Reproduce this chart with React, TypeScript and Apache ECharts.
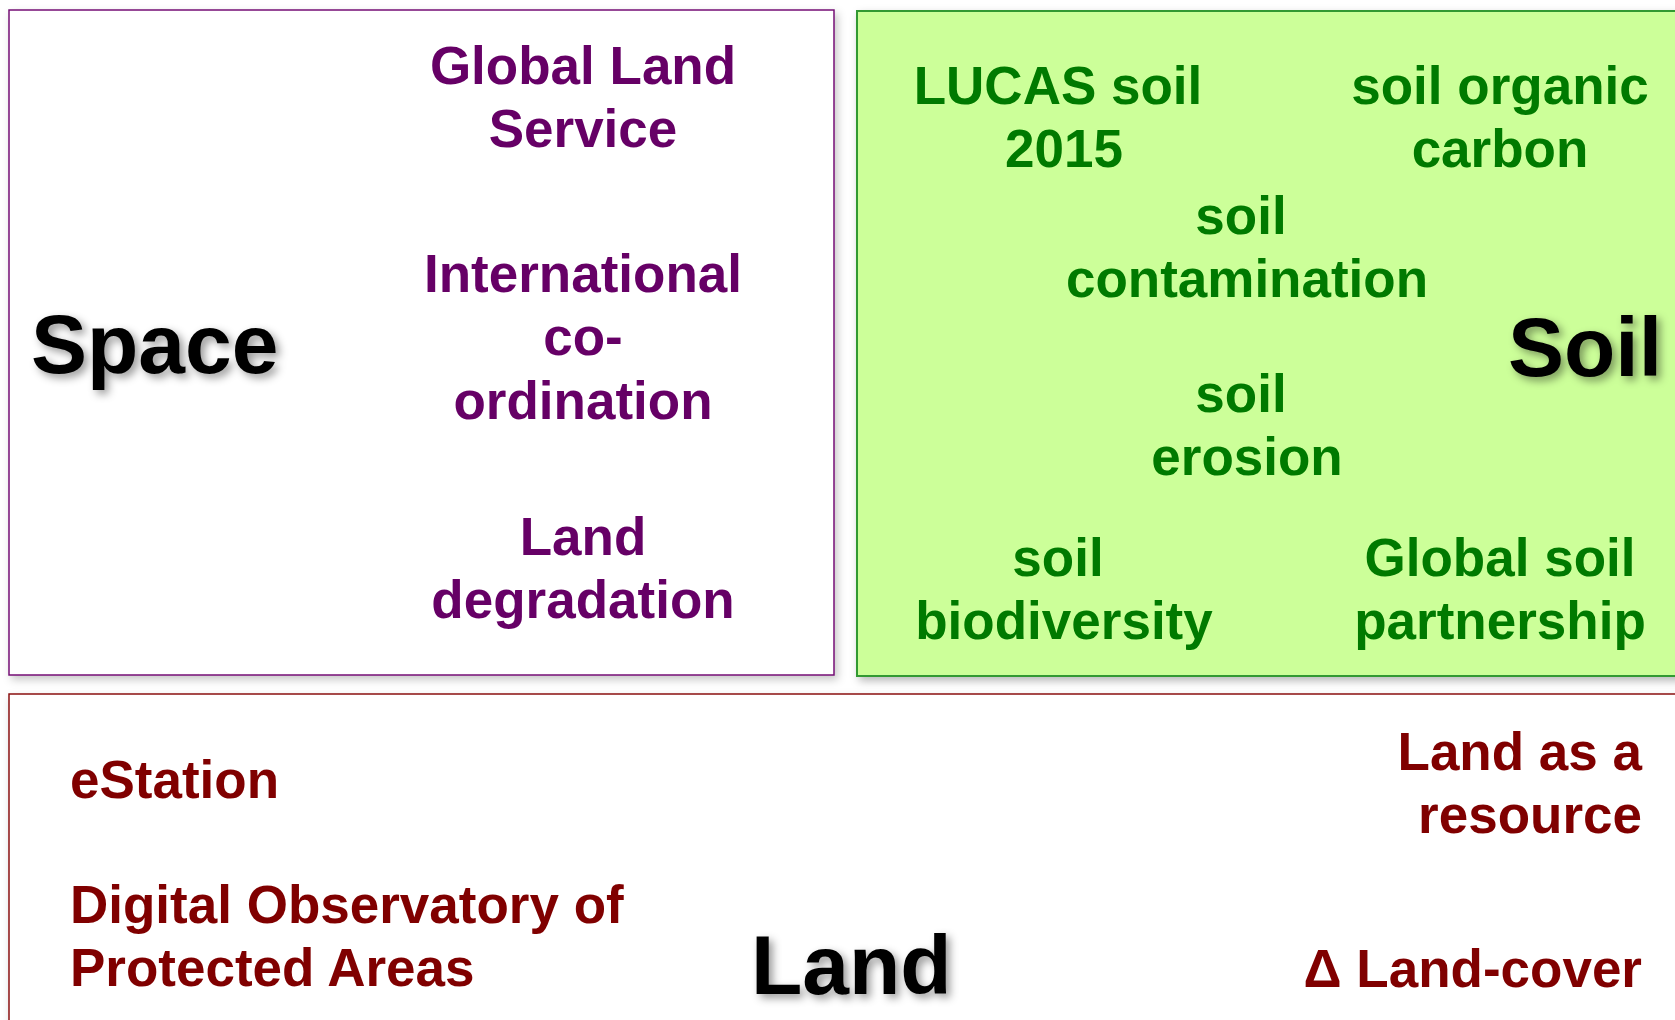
import React, { useEffect, useRef } from "react";
import * as echarts from "echarts";

// Panel titles
const panelTitles = ["Space", "Soil", "Land"];

// Items (one entry per text block, lines split by "|")
const spaceItems = ["Global Land|Service", "International|co-|ordination", "Land|degradation"];
const soilItems = [
  "LUCAS soil|2015",
  "soil organic|carbon",
  "soil|contamination",
  "soil|erosion",
  "soil|biodiversity",
  "Global soil|partnership",
];
const landItemsLeft = ["eStation", "Digital Observatory of|Protected Areas"];
const landItemsRight = ["Land as a|resource", "\u0394 Land-cover"];

const FONT = "'Liberation Sans', Arial, Helvetica, sans-serif";
const PURPLE = "#660066";
const GREEN = "#007A00";
const RED = "#800000";
const LH = 63.5;

function block(
  text: string,
  x: number,
  yFirst: number,
  color: string,
  align: "center" | "left" | "right",
  offsets: number[] = [],
  size = 53
) {
  return text.split("|").map((line, i) => ({
    type: "text",
    z: 10,
    style: {
      text: line,
      x: x + (offsets[i] || 0),
      y: yFirst + i * LH,
      fill: color,
      font: `bold ${size}px ${FONT}`,
      textAlign: align,
      textVerticalAlign: "middle",
    },
  }));
}

function title(text: string, x: number, y: number) {
  return {
    type: "text",
    z: 10,
    style: {
      text,
      x,
      y,
      fill: "#000000",
      font: `bold 84px ${FONT}`,
      textAlign: "left",
      textVerticalAlign: "middle",
      textShadowColor: "rgba(0,0,0,0.4)",
      textShadowBlur: 8,
      textShadowOffsetX: 4,
      textShadowOffsetY: 4,
    },
  };
}

export default function App() {
  const ref = useRef<HTMLDivElement>(null);
  useEffect(() => {
    if (!ref.current) return;
    const chart = echarts.init(ref.current, undefined, { renderer: "svg" });
    const spacePos = [
      [583, 65],
      [583, 273],
      [583, 536],
    ];
    const soilPos = [
      [1058, 85],
      [1500, 85],
      [1247, 215],
      [1247, 393],
      [1064, 557],
      [1500, 557],
    ];
    const soilOffsets = [[0, 6], [0, 0], [-6, 0], [-6, 0], [-6, 0], [0, 0]];
    const landLeftPos = [
      [70, 779],
      [70, 904],
    ];
    const landRightPos = [
      [1642, 751],
      [1642, 968],
    ];
    const elements: any[] = [
      {
        type: "rect",
        z: 1,
        shape: { x: 9, y: 10, width: 825, height: 665 },
        style: {
          fill: "#ffffff",
          stroke: "#750F75",
          lineWidth: 1.5,
          shadowColor: "rgba(0,0,0,0.22)",
          shadowBlur: 8,
          shadowOffsetX: 3,
          shadowOffsetY: 4,
        },
      },
      {
        type: "rect",
        z: 1,
        shape: { x: 857, y: 11, width: 840, height: 665 },
        style: {
          fill: "#CCFF99",
          stroke: "#339933",
          lineWidth: 2,
          shadowColor: "rgba(0,0,0,0.28)",
          shadowBlur: 8,
          shadowOffsetX: 3,
          shadowOffsetY: 4,
        },
      },
      {
        type: "rect",
        z: 1,
        shape: { x: 9, y: 694, width: 1700, height: 360 },
        style: {
          fill: "#ffffff",
          stroke: "#8B1010",
          lineWidth: 1.5,
          shadowColor: "rgba(0,0,0,0.18)",
          shadowBlur: 8,
          shadowOffsetX: 2,
          shadowOffsetY: 4,
        },
      },
      title(panelTitles[0], 31, 344),
      title(panelTitles[1], 1508, 347),
      title(panelTitles[2], 751, 965),
    ];
    spaceItems.forEach((t, i) =>
      elements.push(...block(t, spacePos[i][0], spacePos[i][1], PURPLE, "center"))
    );
    soilItems.forEach((t, i) =>
      elements.push(
        ...block(t, soilPos[i][0], soilPos[i][1], GREEN, "center", soilOffsets[i])
      )
    );
    landItemsLeft.forEach((t, i) =>
      elements.push(...block(t, landLeftPos[i][0], landLeftPos[i][1], RED, "left"))
    );
    landItemsRight.forEach((t, i) =>
      elements.push(...block(t, landRightPos[i][0], landRightPos[i][1], RED, "right"))
    );
    chart.setOption({
      animation: false,
      backgroundColor: "#ffffff",
      graphic: { elements },
    });
    return () => chart.dispose();
  }, []);
  return (
    <div
      ref={ref}
      style={{ position: "fixed", left: 0, top: 0, width: 1675, height: 1020 }}
    />
  );
}
